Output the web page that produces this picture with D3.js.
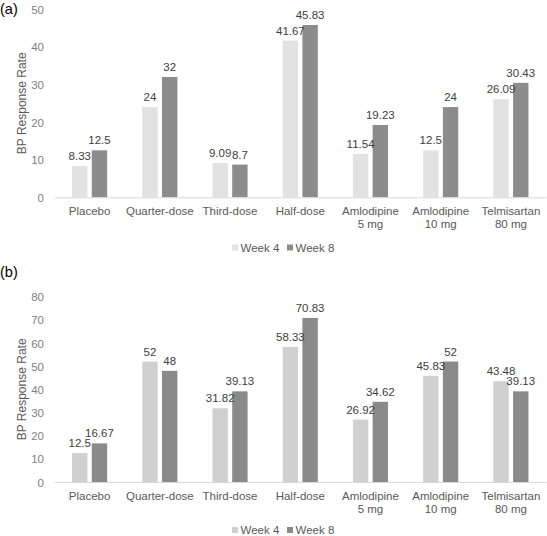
<!DOCTYPE html>
<html>
<head>
<meta charset="utf-8">
<script src="https://cdn.jsdelivr.net/npm/d3@7"></script>
<style>
html,body{margin:0;padding:0;background:#fff;}
svg{display:block;font-family:"Liberation Sans",Arial,sans-serif;}
</style>
</head>
<body>
<svg id="chart" width="547" height="536"></svg>
<script>
const categories = [["Placebo"],["Quarter-dose"],["Third-dose"],["Half-dose"],["Amlodipine","5 mg"],["Amlodipine","10 mg"],["Telmisartan","80 mg"]];
const seriesNames = ["Week 4","Week 8"];
const panelA_week4 = [8.33, 24, 9.09, 41.67, 11.54, 12.5, 26.09];
const panelA_week8 = [12.5, 32, 8.7, 45.83, 19.23, 24, 30.43];
const panelB_week4 = [12.5, 52, 31.82, 58.33, 26.92, 45.83, 43.48];
const panelB_week8 = [16.67, 48, 39.13, 70.83, 34.62, 52, 39.13];
const panelA_ticks = [0,10,20,30,40,50];
const panelB_ticks = [0,10,20,30,40,50,60,70,80];

const svg = d3.select("#chart");
const catKeys = categories.map(c => c.join(" "));

function panel(opts){
  const g = svg.append("g");
  const x0 = d3.scaleBand().domain(catKeys).range([54.5, 546]).paddingInner(0).paddingOuter(0);
  const bw = x0.bandwidth();
  const x1 = d3.scaleBand().domain(seriesNames).range([bw*0.25, bw*0.75]).paddingInner(0.22).paddingOuter(0);
  const y = d3.scaleLinear().domain([0, opts.max]).range([opts.y0, opts.yTop]);

  // panel letter
  g.append("text").attr("x",0).attr("y",opts.letterY).attr("font-size",14.5).attr("fill","#000").text(opts.letter);

  // y ticks
  const yAxis = d3.axisLeft(y).tickValues(opts.ticks).tickSize(0).tickPadding(0);
  const ya = g.append("g").attr("transform","translate(44,0)").call(yAxis);
  ya.select(".domain").remove();
  ya.selectAll("text").attr("font-size",11.5).attr("fill","#7f7f7f").attr("font-family","Liberation Sans, Arial, sans-serif").attr("dy","0.35em");

  // axis title
  g.append("text").attr("transform",`translate(26,${(opts.y0+opts.yTop)/2}) rotate(-90)`)
    .attr("text-anchor","middle").attr("font-size",12).attr("fill","#595959").text("BP Response Rate");

  // bars
  const data = categories.map((c,i)=>({key:catKeys[i], vals:[{s:"Week 4",v:opts.w4[i]},{s:"Week 8",v:opts.w8[i]}]}));
  const grp = g.selectAll(".grp").data(data).join("g").attr("transform",d=>`translate(${x0(d.key)},0)`);
  grp.selectAll("rect").data(d=>d.vals).join("rect")
    .attr("x",d=>x1(d.s)).attr("width",x1.bandwidth())
    .attr("y",d=>y(d.v)).attr("height",d=>y(0)-y(d.v))
    .attr("fill",d=>d.s==="Week 4"?opts.c4:opts.c8);
  grp.selectAll("text.lbl").data(d=>d.vals).join("text").attr("class","lbl")
    .attr("x",d=>x1(d.s)+x1.bandwidth()/2).attr("y",d=>y(d.v)-6)
    .attr("text-anchor","middle").attr("font-size",11.5).attr("fill","#404040")
    .text(d=>d.v);

  // baseline
  const xAxis = d3.axisBottom(x0).tickSize(0).tickFormat("");
  const xa = g.append("g").attr("transform",`translate(0,${y(0)})`).call(xAxis);
  xa.select(".domain").attr("stroke","#d9d9d9").attr("stroke-width",1);

  // category labels
  categories.forEach((c,i)=>{
    c.forEach((line,j)=>{
      g.append("text").attr("x",x0(catKeys[i])+bw/2).attr("y",y(0)+17.5+j*13)
        .attr("text-anchor","middle").attr("font-size",11.5).attr("fill","#595959").text(line);
    });
  });

  // legend
  const leg = g.append("g");
  const lx = [232, 287];
  seriesNames.forEach((s,i)=>{
    leg.append("rect").attr("x",lx[i]).attr("y",opts.legY-3).attr("width",6).attr("height",6).attr("fill",i===0?opts.c4:opts.c8);
    leg.append("text").attr("x",lx[i]+8.5).attr("y",opts.legY+4).attr("font-size",11.5).attr("fill","#595959").text(s);
  });
}

panel({letter:"(a)", letterY:14, max:50, y0:197.3, yTop:9.3, ticks:panelA_ticks, w4:panelA_week4, w8:panelA_week8, c4:"#e2e2e2", c8:"#8c8c8c", legY:247.5});
panel({letter:"(b)", letterY:277, max:80, y0:482, yTop:296.7, ticks:panelB_ticks, w4:panelB_week4, w8:panelB_week8, c4:"#d0d0d0", c8:"#8a8a8a", legY:530});
</script>
</body>
</html>
